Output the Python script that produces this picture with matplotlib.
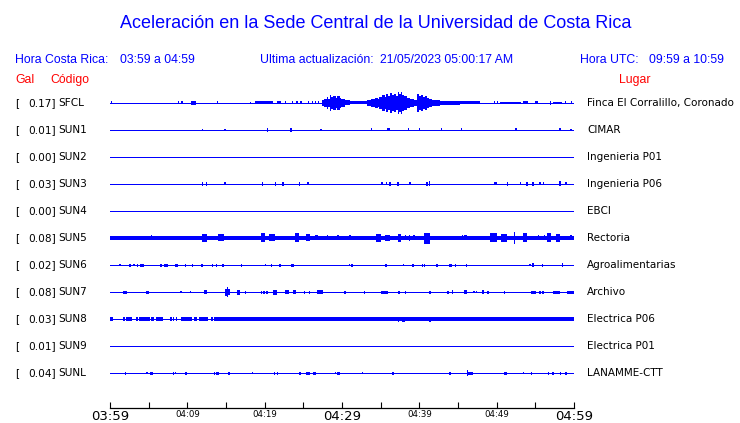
import matplotlib.pyplot as plt
from matplotlib import transforms

# Estaciones (de arriba hacia abajo)
codigos = ["SFCL", "SUN1", "SUN2", "SUN3", "SUN4", "SUN5", "SUN6", "SUN7", "SUN8", "SUN9", "SUNL"]
gal = [0.17, 0.01, 0.00, 0.03, 0.00, 0.08, 0.02, 0.08, 0.03, 0.01, 0.04]
lugares = ["Finca El Corralillo, Coronado", "CIMAR", "Ingenieria P01", "Ingenieria P06", "EBCI",
           "Rectoria", "Agroalimentarias", "Archivo", "Electrica P06", "Electrica P01", "LANAMME-CTT"]

# Eje de tiempo: minutos desde las 03:59
tick_min = [0, 10, 20, 30, 40, 50, 60]
tick_lbl = ["03:59", "04:09", "04:19", "04:29", "04:39", "04:49", "04:59"]
tick_grande = [True, False, False, True, False, False, True]
tick_menor = [5, 15, 25, 35, 45, 55]

# Envolventes: (min inicio, min fin, semi-amplitud en px)
ev_sfcl = [(0.1, 0.1, 1.5), (8.8, 8.8, 1.5), (9.2, 9.2, 1.5), (10.5, 11.1, 2), (13.8, 13.8, 1.5),
           (18.1, 18.1, 1), (18.8, 21.1, 1.5), (21.6, 22.1, 1.5), (22.6, 22.6, 1.5), (23.5, 23.5, 1.5),
           (24.1, 24.1, 1.5), (24.6, 24.6, 1.5), (25.6, 25.6, 1.5), (26.1, 26.1, 1.5), (26.5, 26.5, 1.5),
           (26.9, 26.9, 1.5), (27.4, 27.7, 3), (27.7, 28.0, 4), (28.0, 28.2, 6), (28.2, 28.4, 4),
           (28.4, 28.6, 8), (28.6, 28.9, 6), (28.9, 29.2, 7), (29.2, 29.4, 5), (29.4, 29.7, 7),
           (29.7, 29.9, 5), (29.9, 30.4, 4), (30.4, 31.0, 2.5), (31.0, 33.2, 1.5), (33.2, 33.8, 3),
           (33.8, 34.3, 4), (34.3, 34.6, 5), (34.6, 34.8, 4), (34.8, 35.2, 6), (35.2, 35.5, 8),
           (35.5, 35.7, 6), (35.7, 36.0, 9), (36.0, 36.2, 7), (36.2, 36.5, 10), (36.5, 36.7, 8),
           (36.7, 37.0, 9), (37.0, 37.2, 7), (37.2, 37.4, 11), (37.4, 37.6, 9), (37.6, 37.8, 11),
           (37.8, 38.0, 8), (38.0, 38.4, 7), (38.4, 38.8, 5), (38.8, 39.3, 4), (39.3, 39.7, 3),
           (39.7, 40.0, 9), (40.0, 40.2, 7), (40.2, 40.5, 8), (40.5, 40.7, 6), (40.7, 41.0, 7),
           (41.0, 41.2, 5), (41.2, 41.6, 4), (41.6, 42.7, 3), (42.7, 45.3, 2), (45.3, 47.8, 1.5),
           (49.6, 49.6, 1.5), (50.0, 50.0, 1.5), (50.4, 53.2, 1.3), (53.4, 54.0, 1.5), (54.95, 55.3, 1.5),
           (56.9, 56.9, 2), (57.3, 58.4, 1.3), (58.8, 58.8, 1.5), (59.6, 59.6, 1.5)]
ev_sun1 = [(11.9, 11.9, 1), (14.8, 14.8, 1), (20.3, 20.3, 2), (23.3, 23.3, 2), (27.2, 27.2, 1),
           (33.7, 33.7, 1.5), (35.8, 35.8, 1.5), (36.0, 36.0, 1.5), (38.5, 38.5, 1.5), (39.9, 39.9, 1.5),
           (42.8, 42.8, 1.5), (45.4, 45.4, 1.5), (52.4, 52.4, 1.5), (58.1, 58.1, 1.5), (59.5, 59.5, 1)]
ev_sun2 = []
ev_sun3 = [(11.9, 12.0, 2), (12.4, 12.5, 2), (14.8, 14.8, 1.5), (19.6, 19.7, 2), (21.3, 21.3, 2),
           (22.3, 22.3, 2), (24.4, 24.4, 2), (25.5, 25.5, 1.5), (35.1, 35.1, 1.5), (35.7, 35.7, 1.5),
           (36.1, 36.3, 2), (37.1, 37.4, 2), (38.7, 38.7, 1.5), (40.9, 41.0, 2), (41.2, 41.3, 2.5),
           (49.6, 49.6, 1.5), (49.8, 49.8, 1.5), (51.3, 51.4, 2), (53.0, 53.0, 1.5), (53.8, 54.0, 2),
           (54.6, 54.8, 2), (55.5, 55.5, 1.5), (56.0, 56.0, 1.5), (58.1, 58.3, 2.5), (58.9, 58.9, 1.5)]
ev_sun4 = []
ev_sun5 = [(0.0, 60.0, 2.0), (5.3, 5.3, 2.5), (8.6, 8.6, 2.2), (10.3, 10.3, 2.2), (11.9, 12.5, 4),
           (14.0, 14.8, 3.5), (19.5, 20.0, 4.5), (20.5, 21.3, 3.5), (23.9, 24.4, 4.5), (25.3, 25.8, 3.5),
           (26.5, 26.9, 2.5), (28.0, 28.0, 2.5), (29.4, 29.4, 2.5), (30.9, 31.2, 2.5), (34.4, 35.1, 4),
           (35.6, 36.2, 3), (37.2, 37.6, 4), (38.1, 38.1, 2.5), (38.6, 38.8, 3), (39.2, 39.2, 2.5),
           (40.6, 41.4, 5.5), (45.5, 45.5, 2.5), (45.8, 46.1, 2.5), (49.1, 50.0, 4.5), (50.5, 51.4, 4),
           (52.2, 52.2, 6), (53.4, 53.9, 4.5), (55.3, 55.3, 2.5), (56.1, 56.1, 2.5), (56.5, 57.0, 4.5),
           (57.7, 58.2, 4), (59.5, 59.5, 2.5)]
ev_sun6 = [(1.2, 1.2, 1), (2.5, 2.5, 1.5), (3.0, 3.0, 1), (3.5, 3.5, 1.5), (3.9, 4.4, 1.5), (6.5, 6.5, 1.5),
           (7.0, 7.0, 1.5), (7.3, 7.3, 1.5), (8.4, 8.8, 1.5), (9.7, 9.8, 1.5), (10.6, 10.6, 1.5),
           (11.8, 11.8, 1.5), (13.2, 13.2, 1.5), (13.7, 13.7, 1.5), (14.5, 14.5, 1.5), (16.9, 17.0, 1.5),
           (20.0, 20.0, 1), (20.8, 20.9, 1.5), (21.9, 21.9, 1.5), (23.4, 23.8, 1.5), (30.9, 30.9, 1),
           (31.2, 31.4, 1.5), (35.6, 35.6, 1.5), (37.9, 37.9, 1), (39.1, 39.1, 1.5), (40.3, 40.3, 1.5),
           (40.6, 40.6, 1.5), (42.2, 42.2, 1.5), (43.8, 44.2, 1.5), (44.6, 44.6, 1.5), (46.0, 46.1, 1.5),
           (54.2, 54.2, 1), (54.6, 54.8, 2), (55.8, 55.9, 1.5), (58.4, 58.4, 2)]
ev_sun7 = [(1.7, 2.2, 1.5), (4.7, 5.1, 1.5), (9.1, 9.1, 1), (10.3, 10.3, 1), (12.1, 12.6, 2),
           (14.9, 15.1, 3.5), (15.1, 15.3, 5.3), (15.3, 15.5, 3), (16.4, 16.8, 2.5), (17.4, 17.4, 1.5),
           (19.5, 19.5, 1.5), (19.8, 19.8, 1.5), (20.2, 20.2, 1.5), (21.1, 21.6, 2.5), (22.6, 23.1, 2),
           (23.6, 24.1, 1.8), (25.1, 25.1, 1.5), (25.7, 25.7, 1.5), (26.8, 27.5, 2), (30.3, 30.3, 1.5),
           (32.8, 32.8, 1.5), (35.1, 35.9, 1.5), (37.2, 37.5, 1.5), (38.1, 38.1, 1.5), (41.3, 41.3, 1.5),
           (43.6, 43.6, 1.5), (44.2, 44.2, 2), (45.8, 46.2, 2), (47.0, 47.0, 1), (47.3, 47.3, 1),
           (48.1, 48.4, 2), (48.8, 48.8, 1.5), (50.9, 50.9, 1.5), (54.4, 55.1, 1.5), (55.5, 55.5, 1.5),
           (55.9, 56.1, 1.5), (57.3, 58.2, 1.5), (59.1, 60.0, 1.5)]
ev_sun8 = [(0.0, 0.4, 1.7), (1.7, 1.7, 1.7), (2.1, 2.9, 1.7), (3.4, 3.4, 1.7), (3.7, 5.2, 1.7),
           (5.3, 5.7, 1.7), (5.9, 6.8, 1.7), (7.8, 7.8, 1.7), (8.1, 8.1, 1.7), (8.5, 8.5, 1.7),
           (9.2, 9.7, 1.7), (9.7, 10.6, 1.7), (10.9, 11.3, 1.7), (11.5, 12.7, 1.7), (13.1, 13.1, 1.7),
           (13.4, 60.0, 1.7), (30.3, 30.3, 2.2), (37.2, 37.4, 2.5), (37.8, 38.1, 2.5), (40.3, 40.3, 2.2),
           (41.3, 41.3, 2.5), (58.2, 58.2, 2.2)]
ev_sun9 = []
ev_sunl = [(1.9, 1.9, 1.5), (4.7, 4.7, 0.8), (5.2, 5.5, 1.5), (8.1, 8.1, 1.5), (8.4, 8.4, 1),
           (9.7, 10.0, 1.5), (13.4, 13.4, 1.5), (13.7, 14.1, 1.5), (15.3, 15.3, 1.5), (18.3, 18.3, 0.8),
           (21.2, 21.2, 1.5), (21.6, 21.6, 1.5), (24.5, 24.5, 1.5), (25.4, 25.8, 1.5), (26.3, 26.3, 1.5),
           (26.5, 26.5, 1.5), (29.1, 29.1, 1), (29.3, 29.8, 1.5), (32.6, 32.6, 1), (36.5, 36.5, 1.5),
           (43.9, 43.9, 1.5), (46.1, 46.1, 3.3), (46.3, 47.0, 1.5), (50.9, 51.3, 1.5), (53.4, 53.4, 1),
           (54.4, 54.4, 1.5), (56.6, 56.6, 1.5), (57.2, 57.4, 1.5), (58.2, 58.2, 1.5), (58.9, 59.1, 1.5)]
eventos = [ev_sfcl, ev_sun1, ev_sun2, ev_sun3, ev_sun4, ev_sun5, ev_sun6, ev_sun7, ev_sun8, ev_sun9, ev_sunl]

AZUL = "#0000ff"
ROJO = "#ff0000"
W, H = 740, 423
PX = 1 / 27.0  # un pixel en unidades de fila

fig = plt.figure(figsize=(W / 100, H / 100), dpi=100)
ax = fig.add_axes([110 / W, 1 - 386.5 / H, 464 / W, 297 / H])
ax.set_xlim(0, 60)
ax.set_ylim(len(codigos) - 0.5, -0.5)

for i, evs in enumerate(eventos):
    ax.plot([0, 60], [i, i], color=AZUL, lw=0.72, solid_capstyle="butt", antialiased=False)
    for t0, t1, a in evs:
        ancho = max(t1 - t0, 0.18)
        ax.bar(t0, 2 * a * PX, width=ancho, bottom=i - a * PX, align="edge",
               color=AZUL, linewidth=0)

# Eje de tiempo
for s in ["top", "left", "right"]:
    ax.spines[s].set_visible(False)
ax.spines["bottom"].set_position(("outward", 21.5 * 0.72))
ax.spines["bottom"].set_linewidth(0.9)
ax.set_yticks([])
ax.set_xticks(tick_min)
ax.set_xticks(tick_menor, minor=True)
ax.set_xticklabels(tick_lbl)
ax.tick_params(axis="x", which="both", direction="in", length=4.4, width=0.8, pad=1.5)
for lbl, g in zip(ax.get_xticklabels(), tick_grande):
    lbl.set_fontsize(9.5 if g else 6.2)
    lbl.set_family("DejaVu Sans")

# Etiquetas de cada fila
trans = transforms.blended_transform_factory(fig.transFigure, ax.transData)
for i in range(len(codigos)):
    ax.text(15 / W, i, "[", transform=trans, fontsize=7.6, va="center", ha="left")
    ax.text(56 / W, i, "%.2f]" % gal[i], transform=trans, fontsize=7.6, va="center", ha="right")
    ax.text(58 / W, i, codigos[i], transform=trans, fontsize=7.6, va="center", ha="left")
    ax.text(587 / W, i, lugares[i], transform=trans, fontsize=7.5, va="center", ha="left")

# Encabezados
sans = "Liberation Sans"
fig.text(376 / W, 1 - 23 / H, "Aceleración en la Sede Central de la Universidad de Costa Rica",
         color=AZUL, fontsize=13.0, family=sans, ha="center", va="center")
y1 = 1 - 60 / H
fig.text(15 / W, y1, "Hora Costa Rica:", color=AZUL, fontsize=8.8, family=sans, va="center")
fig.text(120 / W, y1, "03:59 a 04:59", color=AZUL, fontsize=8.8, family=sans, va="center")
fig.text(260 / W, y1, "Ultima actualización:", color=AZUL, fontsize=8.8, family=sans, va="center")
fig.text(380 / W, y1, "21/05/2023 05:00:17 AM", color=AZUL, fontsize=8.8, family=sans, va="center")
fig.text(580 / W, y1, "Hora UTC:", color=AZUL, fontsize=8.8, family=sans, va="center")
fig.text(724 / W, y1, "09:59 a 10:59", color=AZUL, fontsize=8.8, family=sans, va="center", ha="right")
y2 = 1 - 80 / H
fig.text(15 / W, y2, "Gal", color=ROJO, fontsize=8.8, family=sans, va="center")
fig.text(50 / W, y2, "Código", color=ROJO, fontsize=8.8, family=sans, va="center")
fig.text(650 / W, y2, "Lugar", color=ROJO, fontsize=8.8, family=sans, va="center", ha="right")

fig.savefig("out.png", dpi=100)
